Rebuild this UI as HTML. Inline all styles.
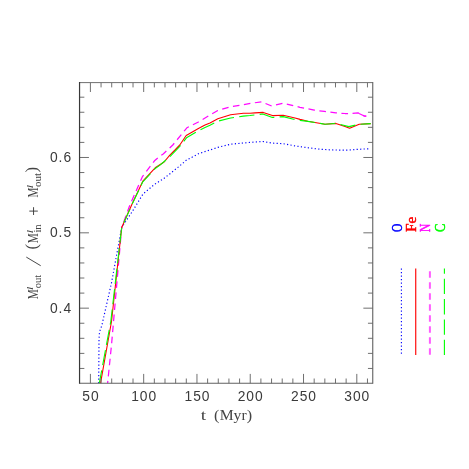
<!DOCTYPE html>
<html><head><meta charset="utf-8"><title>plot</title>
<style>
html,body{margin:0;padding:0;background:#fff;}
body{width:469px;height:469px;overflow:hidden;font-family:"Liberation Sans",sans-serif;}
svg{display:block;will-change:transform;}
.tl text{font-family:"Liberation Sans",sans-serif;font-size:13.8px;fill:#3a3a3a;letter-spacing:0.95px;}
.ax{font-family:"Liberation Serif",serif;fill:#444;}
.lg text{font-family:"Liberation Serif",serif;font-weight:normal;font-size:15.2px;stroke-width:0.5px;paint-order:stroke;stroke-linejoin:round;}
</style></head><body>
<svg width="469" height="469" viewBox="0 0 469 469">
<rect width="469" height="469" fill="#fff"/>
<defs><clipPath id="c"><rect x="79.55" y="82.6" width="293.2" height="300.70000000000005"/></clipPath></defs>
<g clip-path="url(#c)" fill="none" stroke-linejoin="round">
<polyline points="98.7,383.3 99.0,340.0 99.5,332.0 101.8,325.6 111.5,282.8 121.7,227.5 132.3,211.5 143.0,194.0 154.5,184.4 163.5,178.7 169.0,174.5 179.2,166.3 186.2,160.3 198.4,153.8 208.6,150.4 217.8,147.4 230.6,144.2 243.4,143.0 250.0,142.4 262.8,141.5 272.4,143.1 283.2,143.7 295.0,145.9 307.8,147.7 320.6,149.3 333.4,150.0 347.8,150.2 358.0,149.3 369.1,148.8" stroke="#0000ff" stroke-width="1.15" stroke-dasharray="1.2 2.3"/>
<polyline points="107.6,383.3 111.5,345.0 121.7,227.5 129.9,205.0 142.4,176.7 154.5,160.8 159.0,156.9 163.2,154.0 172.8,145.0 181.7,134.2 186.9,127.8 198.4,122.0 210.0,115.0 217.8,110.5 230.6,106.8 243.4,104.6 251.0,103.3 261.5,101.8 271.7,106.0 283.2,103.2 300.0,107.3 314.2,110.1 324.4,111.4 335.9,112.9 345.0,113.5 352.0,113.5 358.0,112.9 364.3,116.0 366.2,116.0" stroke="#ff08ff" stroke-width="1.25" stroke-dasharray="6.6 4.5" stroke-dashoffset="4.1"/>
<polyline points="359.0,113.5 364.3,116.0 366.3,116.1" stroke="#ff08ff" stroke-width="1.25"/>
<polyline points="100.5,383.3 111.5,321.5 121.7,227.5 132.3,203.5 142.8,181.2 155.2,167.8 164.1,162.0 169.6,155.3 175.0,150.0 179.8,145.0 186.2,135.5 198.4,128.4 205.0,125.1 210.0,122.9 217.8,118.7 230.6,114.8 243.4,113.2 250.0,113.2 255.0,112.9 263.2,112.4 272.4,115.6 283.2,115.2 295.0,118.0 300.0,119.4 307.8,121.2 325.0,124.2 335.9,123.4 345.0,126.5 349.6,128.3 359.2,124.3 370.7,123.6" stroke="#ff0000" stroke-width="1.1"/>
<polyline points="99.3,383.3 110.8,321.5 121.7,227.5 132.3,203.8 142.8,181.8 155.2,168.5 160.0,165.1 169.6,156.9 179.8,146.3 186.5,137.8 198.4,130.8 205.0,127.4 210.0,125.2 217.8,121.2 230.6,118.0 243.4,116.1 250.0,115.5 255.0,114.9 262.8,114.0 272.4,117.5 283.2,116.6 293.5,119.2 300.0,120.4 307.8,121.4 325.0,124.2 335.9,123.4 348.9,126.6 359.2,124.3 370.7,123.6" stroke="#00ff00" stroke-width="1.1" stroke-dasharray="15.3 5.3" stroke-dashoffset="2.2"/>
</g>
<path d="M90.40 383.3 v-9.4 M90.40 82.6 v9.4 M101.06 383.3 v-4.8 M101.06 82.6 v4.8 M111.71 383.3 v-4.8 M111.71 82.6 v4.8 M122.37 383.3 v-4.8 M122.37 82.6 v4.8 M133.02 383.3 v-4.8 M133.02 82.6 v4.8 M143.68 383.3 v-9.4 M143.68 82.6 v9.4 M154.34 383.3 v-4.8 M154.34 82.6 v4.8 M164.99 383.3 v-4.8 M164.99 82.6 v4.8 M175.65 383.3 v-4.8 M175.65 82.6 v4.8 M186.30 383.3 v-4.8 M186.30 82.6 v4.8 M196.96 383.3 v-9.4 M196.96 82.6 v9.4 M207.62 383.3 v-4.8 M207.62 82.6 v4.8 M218.27 383.3 v-4.8 M218.27 82.6 v4.8 M228.93 383.3 v-4.8 M228.93 82.6 v4.8 M239.58 383.3 v-4.8 M239.58 82.6 v4.8 M250.24 383.3 v-9.4 M250.24 82.6 v9.4 M260.90 383.3 v-4.8 M260.90 82.6 v4.8 M271.55 383.3 v-4.8 M271.55 82.6 v4.8 M282.21 383.3 v-4.8 M282.21 82.6 v4.8 M292.86 383.3 v-4.8 M292.86 82.6 v4.8 M303.52 383.3 v-9.4 M303.52 82.6 v9.4 M314.18 383.3 v-4.8 M314.18 82.6 v4.8 M324.83 383.3 v-4.8 M324.83 82.6 v4.8 M335.49 383.3 v-4.8 M335.49 82.6 v4.8 M346.14 383.3 v-4.8 M346.14 82.6 v4.8 M356.80 383.3 v-9.4 M356.80 82.6 v9.4 M367.46 383.3 v-4.8 M367.46 82.6 v4.8 M79.55 368.45 h4.8 M372.75 368.45 h-4.8 M79.55 353.38 h4.8 M372.75 353.38 h-4.8 M79.55 338.31 h4.8 M372.75 338.31 h-4.8 M79.55 323.24 h4.8 M372.75 323.24 h-4.8 M79.55 308.17 h9.4 M372.75 308.17 h-9.4 M79.55 293.10 h4.8 M372.75 293.10 h-4.8 M79.55 278.03 h4.8 M372.75 278.03 h-4.8 M79.55 262.96 h4.8 M372.75 262.96 h-4.8 M79.55 247.89 h4.8 M372.75 247.89 h-4.8 M79.55 232.82 h9.4 M372.75 232.82 h-9.4 M79.55 217.75 h4.8 M372.75 217.75 h-4.8 M79.55 202.68 h4.8 M372.75 202.68 h-4.8 M79.55 187.61 h4.8 M372.75 187.61 h-4.8 M79.55 172.54 h4.8 M372.75 172.54 h-4.8 M79.55 157.47 h9.4 M372.75 157.47 h-9.4 M79.55 142.40 h4.8 M372.75 142.40 h-4.8 M79.55 127.33 h4.8 M372.75 127.33 h-4.8 M79.55 112.26 h4.8 M372.75 112.26 h-4.8 M79.55 97.19 h4.8 M372.75 97.19 h-4.8" stroke="#707070" stroke-width="1" fill="none"/>
<path d="M79.55 82.6 H372.75" stroke="#707070" stroke-width="1" fill="none"/>
<path d="M372.75 82.1 V383.8" stroke="#606060" stroke-width="1.1" fill="none"/>
<path d="M79.55 383.3 H372.75" stroke="#606060" stroke-width="1.05" fill="none"/>
<line x1="79.55" y1="82.1" x2="79.55" y2="383.8" stroke="#383838" stroke-width="1.2"/>
<g class="tl"><text x="90.9" y="400.8" text-anchor="middle">50</text><text x="144.2" y="400.8" text-anchor="middle">100</text><text x="197.5" y="400.8" text-anchor="middle">150</text><text x="250.7" y="400.8" text-anchor="middle">200</text><text x="304.0" y="400.8" text-anchor="middle">250</text><text x="357.3" y="400.8" text-anchor="middle">300</text><text x="72.0" y="312.8" text-anchor="end">0.4</text><text x="72.0" y="237.4" text-anchor="end">0.5</text><text x="72.0" y="162.1" text-anchor="end">0.6</text></g>
<g class="ax">
<text x="200.7" y="419.9" font-size="13.6" textLength="5.4" lengthAdjust="spacingAndGlyphs">t</text>
<text x="214.0" y="419.7" font-size="15.6" textLength="5.4" lengthAdjust="spacingAndGlyphs">(</text>
<text x="219.7" y="419.9" font-size="13.6" textLength="27.0" lengthAdjust="spacingAndGlyphs">Myr</text>
<text x="246.8" y="419.7" font-size="15.6" textLength="5.4" lengthAdjust="spacingAndGlyphs">)</text>
</g>
<g class="ax">
<text transform="translate(37.9,299.2) rotate(-90)" font-size="15.1" textLength="10.0" lengthAdjust="spacingAndGlyphs">M</text>
<text transform="translate(32.8,289.9) rotate(-90)" font-size="8" textLength="3.3" lengthAdjust="spacingAndGlyphs" font-style="italic">l</text>
<text transform="translate(41.1,288.2) rotate(-90)" font-size="11" textLength="13.5" lengthAdjust="spacingAndGlyphs">out</text>
<line x1="26.3" y1="257.1" x2="40.7" y2="265.7" stroke="#333" stroke-width="0.9"/>
<text transform="translate(37.3,249.4) rotate(-90)" font-size="16.3" textLength="5.6" lengthAdjust="spacingAndGlyphs">(</text>
<text transform="translate(37.8,243.2) rotate(-90)" font-size="15.1" textLength="10.0" lengthAdjust="spacingAndGlyphs">M</text>
<text transform="translate(32.7,233.3) rotate(-90)" font-size="8" textLength="3.3" lengthAdjust="spacingAndGlyphs" font-style="italic">l</text>
<text transform="translate(41.1,232.6) rotate(-90)" font-size="11" textLength="8.3" lengthAdjust="spacingAndGlyphs">in</text>
<path d="M29.3 211.1 H37.8 M33.55 207.2 V215" stroke="#333" stroke-width="0.9" fill="none"/>
<text transform="translate(37.8,197.6) rotate(-90)" font-size="15.1" textLength="10.0" lengthAdjust="spacingAndGlyphs">M</text>
<text transform="translate(32.7,188.3) rotate(-90)" font-size="8" textLength="3.3" lengthAdjust="spacingAndGlyphs" font-style="italic">l</text>
<text transform="translate(41.1,187.1) rotate(-90)" font-size="11" textLength="14.1" lengthAdjust="spacingAndGlyphs">out</text>
<text transform="translate(37.3,172.6) rotate(-90)" font-size="16.3" textLength="5.6" lengthAdjust="spacingAndGlyphs">)</text>
</g>
<g class="lg">
<text transform="translate(401.8,232.0) rotate(-90)" fill="#0000ff" stroke="#0000ff" textLength="8.4" lengthAdjust="spacingAndGlyphs">O</text>
<text transform="translate(416.0,232.0) rotate(-90)" fill="#ff0000" stroke="#ff0000" textLength="15.3" lengthAdjust="spacingAndGlyphs">Fe</text>
<text transform="translate(430.4,232.0) rotate(-90)" fill="#ff00ff" stroke="#ff00ff" textLength="8.2" lengthAdjust="spacingAndGlyphs">N</text>
<text transform="translate(444.7,232.0) rotate(-90)" fill="#00ff00" stroke="#00ff00" textLength="8.4" lengthAdjust="spacingAndGlyphs">C</text>
</g>
<g fill="none">
<line x1="401.4" y1="268.6" x2="401.4" y2="355" stroke="#0000ff" stroke-width="1.1" stroke-dasharray="1.2 2.3"/>
<line x1="415.7" y1="268.6" x2="415.7" y2="355" stroke="#ff2020" stroke-width="1.3"/>
<line x1="429.9" y1="271.2" x2="429.9" y2="355" stroke="#ff5cff" stroke-width="2" stroke-dasharray="6.6 4.4"/>
<line x1="444.4" y1="355" x2="444.4" y2="268.5" stroke="#00ff00" stroke-width="1.1" stroke-dasharray="15.3 5.0"/>
</g>
</svg>
</body></html>
